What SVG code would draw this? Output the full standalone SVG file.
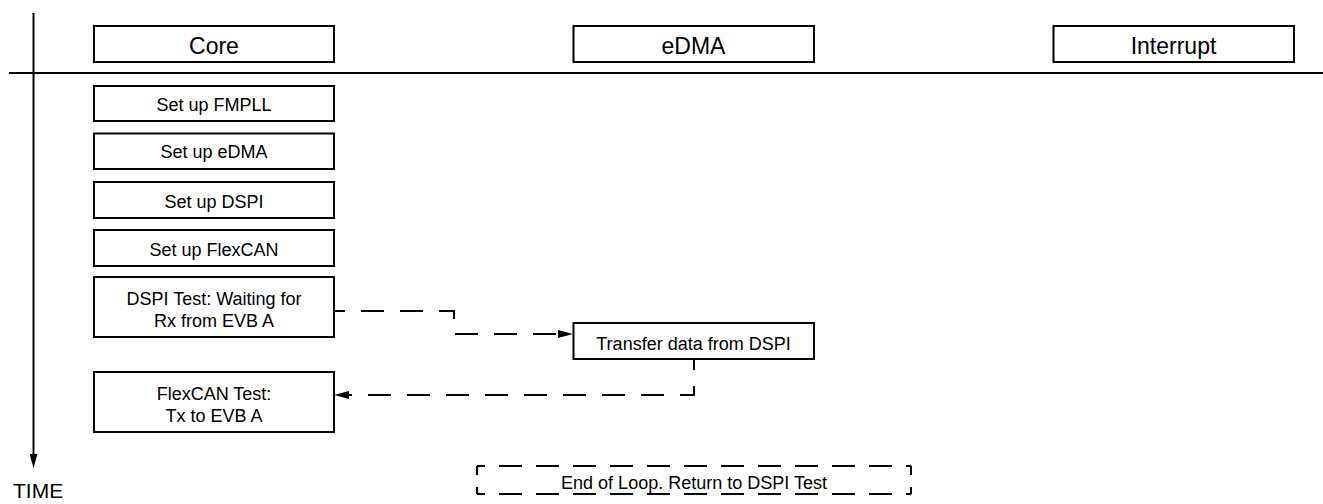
<svg xmlns="http://www.w3.org/2000/svg" width="1323" height="504" viewBox="0 0 1323 504">
<style>
.box{fill:#fff;stroke:#000;stroke-width:2}
.hdr{font-family:"Liberation Sans",Arial,sans-serif;font-size:23px;fill:#000;text-anchor:middle}
.lbl{font-family:"Liberation Sans",Arial,sans-serif;font-size:18px;fill:#000;text-anchor:middle}
.axis{fill:none;stroke:#000;stroke-width:2}
.dash{fill:none;stroke:#000;stroke-width:2;stroke-dasharray:23 16}
.dbox{fill:none;stroke:#000;stroke-width:2}
</style>
<defs>
<marker id="arr" viewBox="0 0 15 8" refX="5" refY="4" markerWidth="15" markerHeight="8" markerUnits="userSpaceOnUse" orient="auto">
<path d="M0,0 L15,4 L0,8 z" fill="#000"/>
</marker>
<marker id="axarr" viewBox="0 0 8 14" refX="4" refY="4" markerWidth="8" markerHeight="14" markerUnits="userSpaceOnUse" orient="0">
<path d="M0,0 L8,0 L4,14 z" fill="#000"/>
</marker>
</defs>
<g id="axes">
<path class="axis" d="M33.5,13 V458" marker-end="url(#axarr)"/>
<path class="axis" d="M9,73 H1323"/>
<text x="13" y="498" style="font-family:'Liberation Sans',Arial,sans-serif;font-size:21px;fill:#000">TIME</text>
</g>
<g id="hdr-core"><rect class="box" x="94" y="26" width="240" height="36"/><text class="hdr" x="214" y="54">Core</text></g>
<g id="hdr-edma"><rect class="box" x="573.5" y="26" width="240.5" height="36"/><text class="hdr" x="693.5" y="54">eDMA</text></g>
<g id="hdr-int"><rect class="box" x="1053.5" y="26" width="240.5" height="36"/><text class="hdr" x="1173.5" y="54">Interrupt</text></g>
<g id="n-fmpll"><rect class="box" x="94" y="86" width="240" height="35"/><text class="lbl" x="214" y="111">Set up FMPLL</text></g>
<g id="n-edma"><rect class="box" x="94" y="133.5" width="240" height="35.5"/><text class="lbl" x="214" y="158">Set up eDMA</text></g>
<g id="n-dspi"><rect class="box" x="94" y="182" width="240" height="36"/><text class="lbl" x="214" y="207.5">Set up DSPI</text></g>
<g id="n-flexcan"><rect class="box" x="94" y="230" width="240" height="36"/><text class="lbl" x="214" y="256">Set up FlexCAN</text></g>
<g id="n-dspitest"><rect class="box" x="94" y="277" width="240" height="60"/><text class="lbl" x="214" y="305">DSPI Test: Waiting for</text><text class="lbl" x="214" y="327">Rx from EVB A</text></g>
<g id="n-flextest"><rect class="box" x="94" y="372" width="240" height="60"/><text class="lbl" x="214" y="399.5">FlexCAN Test:</text><text class="lbl" x="214" y="421.5">Tx to EVB A</text></g>
<g id="n-transfer"><rect class="box" x="573.5" y="323" width="240.5" height="36"/><text class="lbl" x="693.5" y="349.5">Transfer data from DSPI</text></g>
<g id="n-endloop">
<path class="dbox" d="M477,466 H911 M477,494 H911" style="stroke-dasharray:23 14;stroke-dashoffset:15"/>
<path class="dbox" d="M477,466 V494 M911,466 V494" style="stroke-dasharray:9 12"/>
<text class="lbl" x="694" y="489">End of Loop. Return to DSPI Test</text>
</g>
<g id="connectors">
<path class="dash" style="stroke-dashoffset:12" d="M334,311 H454 V334 H563" marker-end="url(#arr)"/>
<path class="dash" style="stroke-dashoffset:12" d="M694,359 V395 H344" marker-end="url(#arr)"/>
</g>
</svg>
